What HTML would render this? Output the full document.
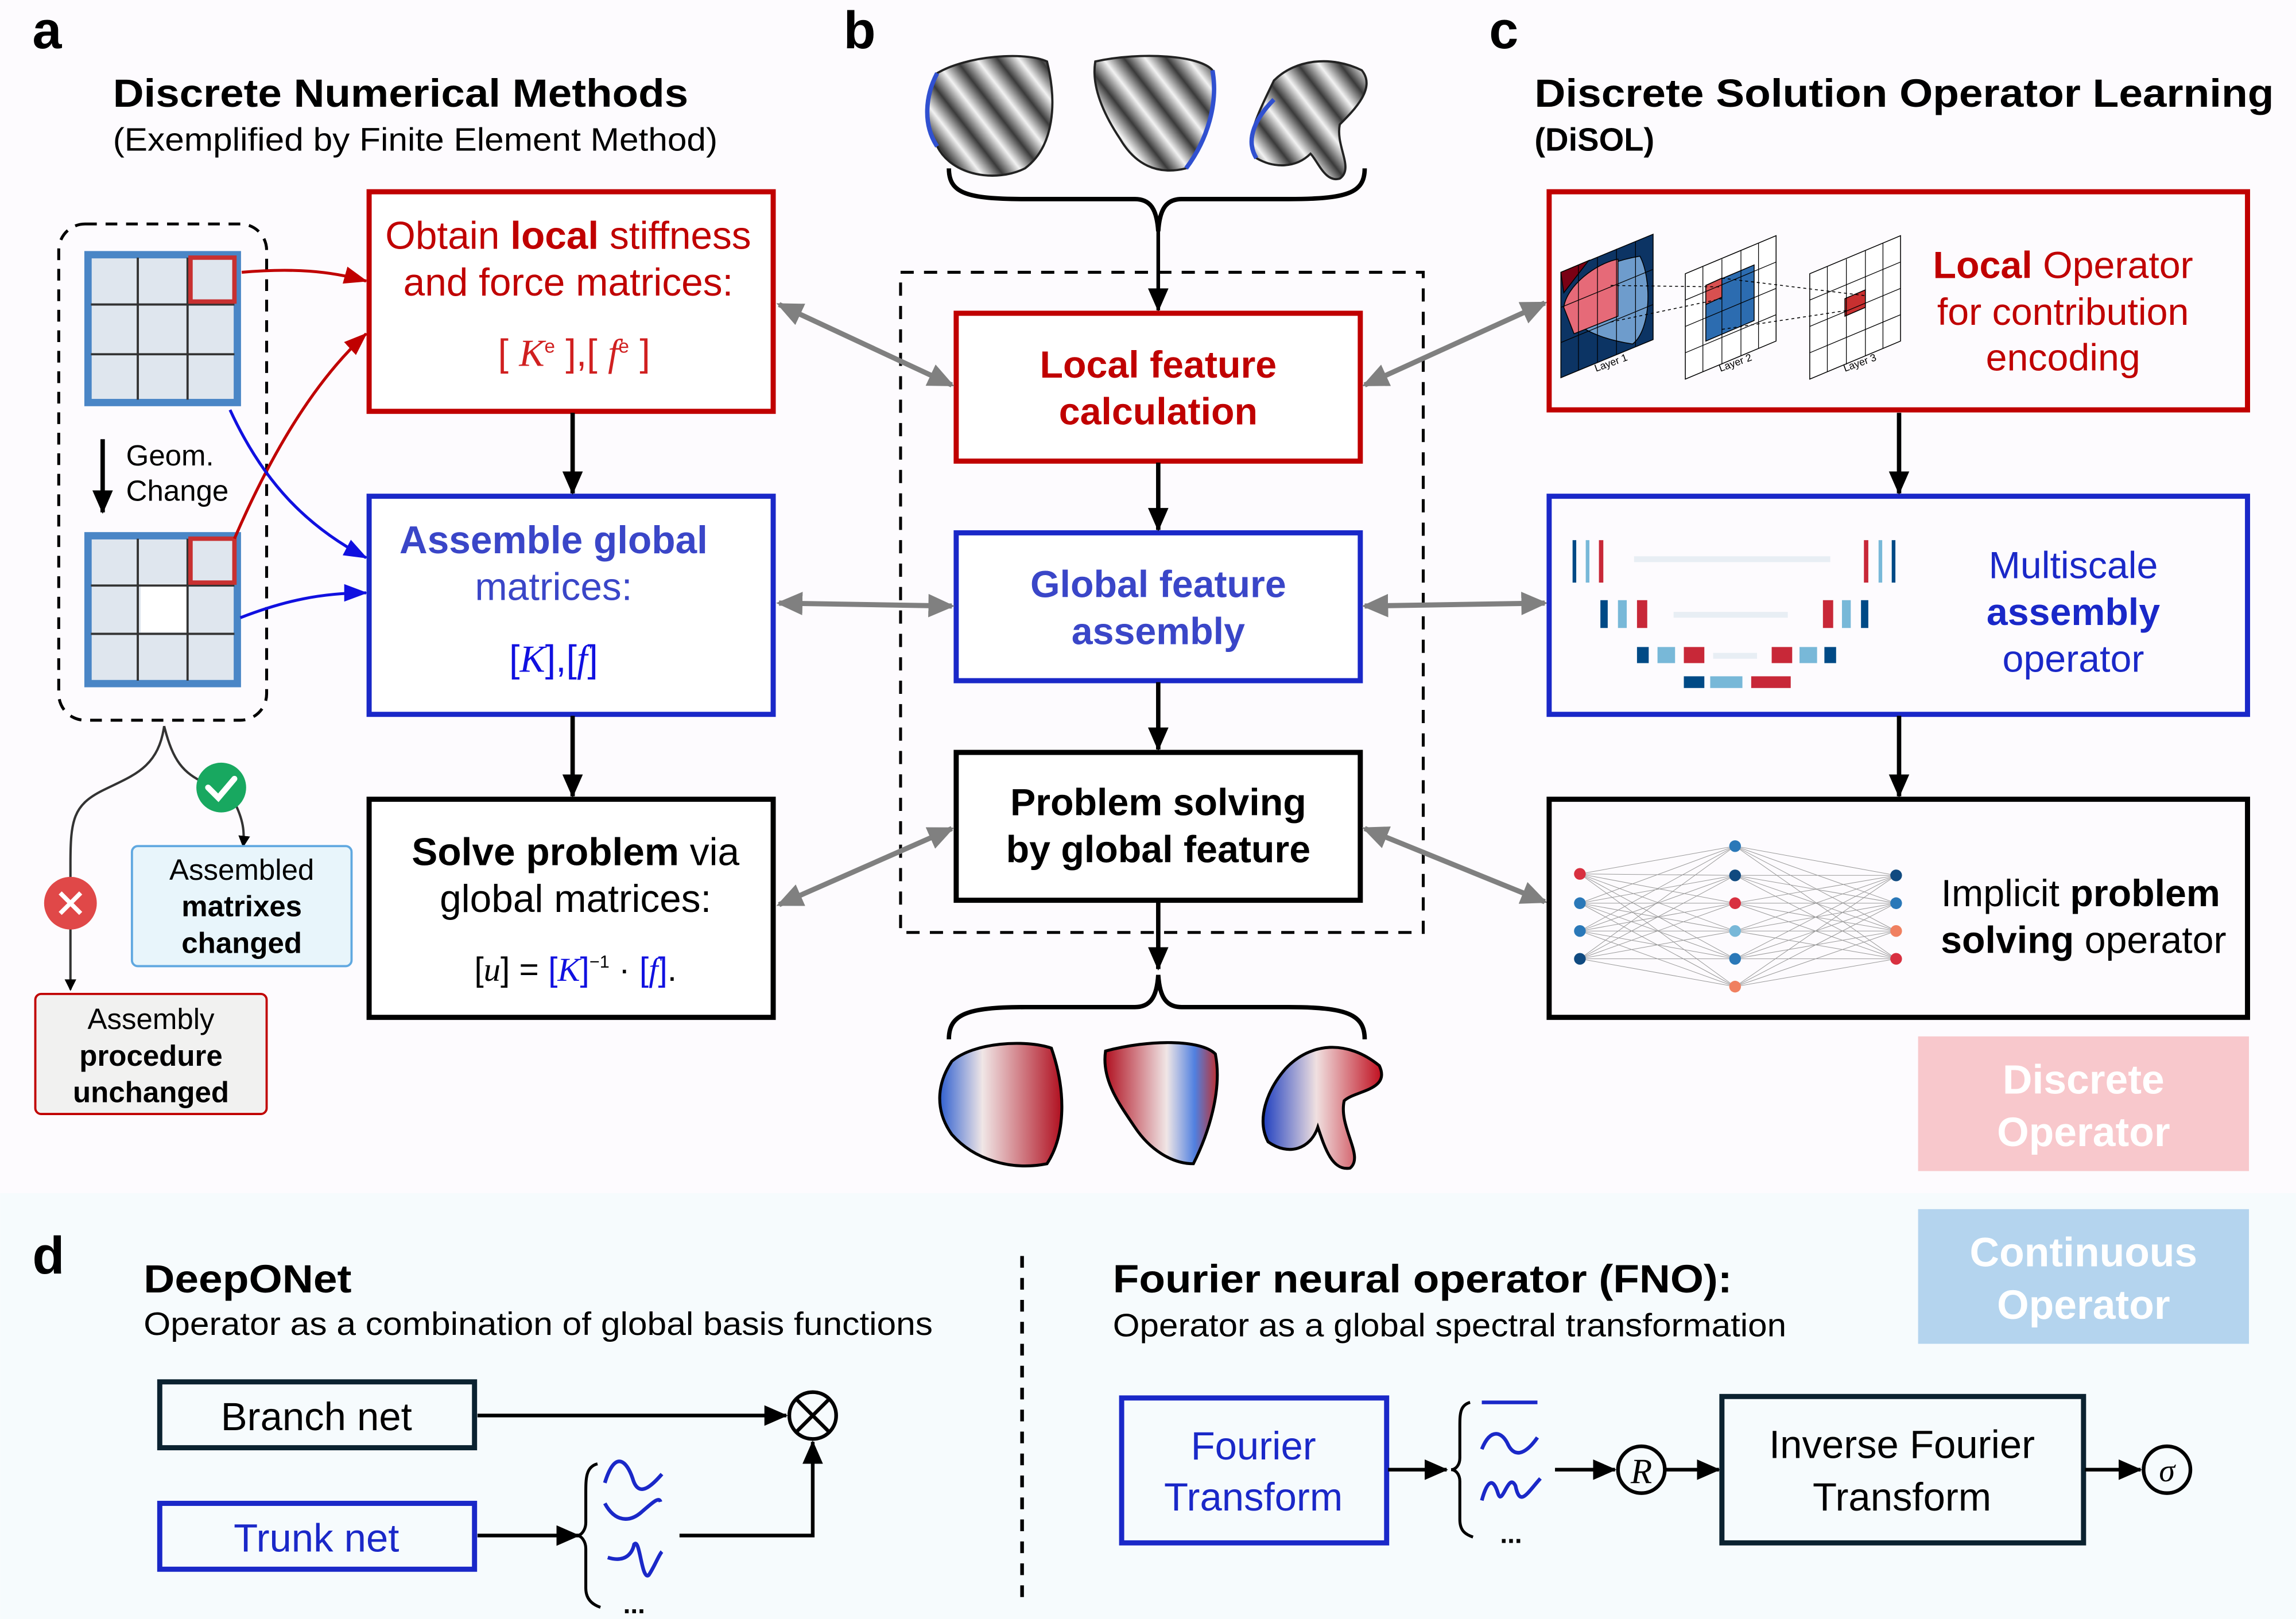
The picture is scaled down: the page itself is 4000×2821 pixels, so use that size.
<!DOCTYPE html>
<html><head><meta charset="utf-8"><style>
html,body{margin:0;padding:0;background:#fdfbfe}
svg{display:block}
text{font-family:"Liberation Sans",Arial,sans-serif}
.ser{font-family:"Liberation Serif",serif;font-style:italic}
</style></head><body>
<svg width="4000" height="2821" viewBox="0 0 1568 1106" xmlns="http://www.w3.org/2000/svg">
<defs>
<marker id="ab" markerWidth="8" markerHeight="8" refX="7" refY="4" orient="auto" markerUnits="userSpaceOnUse"><path d="M0,0 L8,4 L0,8z" fill="#000"/></marker>
<marker id="abig" markerWidth="16" markerHeight="14" refX="15" refY="7" orient="auto" markerUnits="userSpaceOnUse"><path d="M0,0 L16,7 L0,14z" fill="#000"/></marker>
<marker id="ar" markerWidth="16" markerHeight="12" refX="15" refY="6" orient="auto" markerUnits="userSpaceOnUse"><path d="M0,0 L16,6 L0,12z" fill="#c00000"/></marker>
<marker id="abl" markerWidth="16" markerHeight="12" refX="15" refY="6" orient="auto" markerUnits="userSpaceOnUse"><path d="M0,0 L16,6 L0,12z" fill="#1010e0"/></marker>
<marker id="ag" markerWidth="18" markerHeight="16" refX="16" refY="8" orient="auto-start-reverse" markerUnits="userSpaceOnUse"><path d="M0,0 L18,8 L0,16z" fill="#808080"/></marker>
<linearGradient id="stripe" gradientUnits="userSpaceOnUse" x1="0" y1="0" x2="18" y2="-14" spreadMethod="repeat">
<stop offset="0" stop-color="#f2f2f2"/><stop offset="0.5" stop-color="#3a3a3a"/><stop offset="1" stop-color="#f2f2f2"/></linearGradient>
<linearGradient id="rb1" x1="0" x2="1"><stop offset="0" stop-color="#3060d0"/><stop offset="0.35" stop-color="#f0e6e6"/><stop offset="1" stop-color="#b01020"/></linearGradient>
<linearGradient id="rb2" x1="0" x2="1"><stop offset="0" stop-color="#b01020"/><stop offset="0.55" stop-color="#f0e6e6"/><stop offset="0.8" stop-color="#5080e0"/><stop offset="1" stop-color="#c03030"/></linearGradient>
<linearGradient id="rb3" x1="0" x2="1"><stop offset="0" stop-color="#2040c0"/><stop offset="0.45" stop-color="#f0e0e0"/><stop offset="1" stop-color="#c01020"/></linearGradient>
</defs>

<rect x="0" y="0" width="1568" height="815" fill="#fdfbfe"/>
<rect x="0" y="815" width="1568" height="291" fill="#f6fbfd"/>

<text x="22" y="33" font-size="36" font-weight="bold">a</text>
<text x="576" y="33" font-size="36" font-weight="bold">b</text>
<text x="1017" y="33" font-size="36" font-weight="bold">c</text>
<text x="22" y="870" font-size="36" font-weight="bold">d</text>

<text x="77" y="73" font-size="27" font-weight="bold" textLength="393" lengthAdjust="spacingAndGlyphs">Discrete Numerical Methods</text>
<text x="77" y="103" font-size="22" textLength="413" lengthAdjust="spacingAndGlyphs">(Exemplified by Finite Element Method)</text>
<text x="1048" y="73" font-size="27" font-weight="bold" textLength="505" lengthAdjust="spacingAndGlyphs">Discrete Solution Operator Learning</text>
<text x="1048" y="103" font-size="22" font-weight="bold">(DiSOL)</text>

<rect x="40" y="153" width="142" height="339" rx="18" fill="none" stroke="#000" stroke-width="2" stroke-dasharray="8,6"/>
<g stroke="#333" stroke-width="1.5">
<rect x="60" y="174" width="102" height="101" fill="#dfe6ee" stroke="#4a86c6" stroke-width="5"/>
<line x1="94" y1="176" x2="94" y2="273"/><line x1="128" y1="176" x2="128" y2="273"/>
<line x1="62" y1="208" x2="160" y2="208"/><line x1="62" y1="242" x2="160" y2="242"/>
<rect x="130" y="176" width="30" height="30" fill="none" stroke="#c83030" stroke-width="3"/>
<rect x="60" y="366" width="102" height="101" fill="#dfe6ee" stroke="#4a86c6" stroke-width="5"/>
<rect x="96" y="399" width="32" height="33" fill="#fff" stroke="none"/>
<line x1="94" y1="368" x2="94" y2="465"/><line x1="128" y1="368" x2="128" y2="465"/>
<line x1="62" y1="400" x2="160" y2="400"/><line x1="62" y1="433" x2="160" y2="433"/>
<rect x="130" y="368" width="30" height="30" fill="none" stroke="#c83030" stroke-width="3"/>
</g>
<line x1="70" y1="300" x2="70" y2="350" stroke="#000" stroke-width="3" marker-end="url(#abig)"/>
<text x="86" y="318" font-size="20">Geom.</text>
<text x="86" y="342" font-size="20">Change</text>

<path d="M165,186 C200,183 225,185 250,192" fill="none" stroke="#c00000" stroke-width="2" marker-end="url(#ar)"/>
<path d="M160,368 C185,310 215,260 250,228" fill="none" stroke="#c00000" stroke-width="2" marker-end="url(#ar)"/>
<path d="M157,280 C180,330 210,360 250,381" fill="none" stroke="#1010e0" stroke-width="2" marker-end="url(#abl)"/>
<path d="M164,422 C195,410 220,405 250,405" fill="none" stroke="#1010e0" stroke-width="2" marker-end="url(#abl)"/>

<path d="M112,496 C108,525 90,530 70,540 C50,550 48,560 48,590 L48,676" fill="none" stroke="#333" stroke-width="1.6" marker-end="url(#ab)"/>
<path d="M112,496 C118,520 125,528 140,535" fill="none" stroke="#333" stroke-width="1.6"/>
<path d="M160,548 C166,560 167,568 166,578" fill="none" stroke="#333" stroke-width="1.6" marker-end="url(#ab)"/>
<circle cx="151" cy="538" r="17" fill="#18a860"/>
<path d="M142,538 L149,545 L160,532" fill="none" stroke="#fff" stroke-width="4" stroke-linecap="round"/>
<circle cx="48" cy="617" r="18" fill="#e04848"/>
<path d="M41,610 L55,624 M55,610 L41,624" stroke="#fff" stroke-width="3"/>
<rect x="90" y="578" width="150" height="82" rx="4" fill="#e8f5fb" stroke="#60a8e0" stroke-width="1.5"/>
<text x="165" y="601" font-size="20" text-anchor="middle">Assembled</text>
<text x="165" y="626" font-size="20" font-weight="bold" text-anchor="middle">matrixes</text>
<text x="165" y="651" font-size="20" font-weight="bold" text-anchor="middle">changed</text>
<rect x="24" y="679" width="158" height="82" rx="4" fill="#f1f1f0" stroke="#c00000" stroke-width="1.5"/>
<text x="103" y="703" font-size="20" text-anchor="middle">Assembly</text>
<text x="103" y="728" font-size="20" font-weight="bold" text-anchor="middle">procedure</text>
<text x="103" y="753" font-size="20" font-weight="bold" text-anchor="middle">unchanged</text>

<rect x="252" y="131" width="276" height="150" fill="#fff" stroke="#c00000" stroke-width="3.5"/>
<text x="388" y="170" font-size="26.5" fill="#c00000" text-anchor="middle">Obtain <tspan font-weight="bold">local</tspan> stiffness</text>
<text x="388" y="202" font-size="26.5" fill="#c00000" text-anchor="middle">and force matrices:</text>
<text x="392" y="250" font-size="26" fill="#d02020" text-anchor="middle" font-family="Liberation Serif,serif">[ <tspan class="ser">K</tspan><tspan font-size="13" dy="-9">e</tspan><tspan dy="9"> ],[ </tspan><tspan class="ser">f</tspan><tspan font-size="13" dy="-9">e</tspan><tspan dy="9"> ]</tspan></text>

<rect x="252" y="339" width="276" height="149" fill="#fff" stroke="#1a28c8" stroke-width="3.5"/>
<text x="378" y="378" font-size="26.5" fill="#3a46c8" font-weight="bold" text-anchor="middle">Assemble global</text>
<text x="378" y="410" font-size="26.5" fill="#3a46c8" text-anchor="middle">matrices:</text>
<text x="378" y="459" font-size="26" fill="#1010e0" text-anchor="middle" font-family="Liberation Serif,serif">[<tspan class="ser">K</tspan>],[<tspan class="ser">f</tspan>]</text>

<rect x="252" y="546" width="276" height="149" fill="#fff" stroke="#000" stroke-width="3.5"/>
<text x="393" y="591" font-size="26.5" text-anchor="middle"><tspan font-weight="bold">Solve problem</tspan> via</text>
<text x="393" y="623" font-size="26.5" text-anchor="middle">global matrices:</text>
<text x="393" y="670" font-size="23" text-anchor="middle" font-family="Liberation Serif,serif">[<tspan class="ser">u</tspan>] = <tspan fill="#1010e0">[<tspan class="ser">K</tspan>]</tspan><tspan font-size="12" dy="-9">−1</tspan><tspan dy="9"> · </tspan><tspan fill="#1010e0">[<tspan class="ser">f</tspan>]</tspan>.</text>

<line x1="391" y1="282" x2="391" y2="337" stroke="#000" stroke-width="3" marker-end="url(#abig)"/>
<line x1="391" y1="489" x2="391" y2="544" stroke="#000" stroke-width="3" marker-end="url(#abig)"/>

<g stroke="#222" stroke-width="1.5">
<path d="M640,50 C660,38 700,35 715,42 C722,70 720,100 700,115 C680,125 650,120 640,100 C630,85 632,65 640,50z" fill="url(#stripe)"/>
<path d="M748,42 C780,35 820,38 828,48 C832,70 825,95 810,115 C790,120 775,112 765,95 C755,80 745,60 748,42z" fill="url(#stripe)"/>
<path d="M870,55 C885,40 910,38 930,48 C940,60 925,75 915,85 C912,100 925,115 915,122 C905,125 900,110 895,105 C885,115 870,115 858,108 C850,95 858,80 870,55z" fill="url(#stripe)"/>
</g>
<g fill="none" stroke="#3050d0" stroke-width="3">
<path d="M640,100 C630,85 632,65 640,50"/>
<path d="M828,48 C832,70 825,95 810,115"/>
<path d="M858,108 C850,95 858,80 870,68"/>
</g>
<path d="M648,115 C648,132 660,136 700,136 L775,136 C785,136 790,142 791,158 C792,142 797,136 807,136 L880,136 C920,136 932,132 932,115" fill="none" stroke="#000" stroke-width="3"/>
<line x1="791" y1="158" x2="791" y2="212" stroke="#000" stroke-width="2.5" marker-end="url(#abig)"/>

<rect x="615" y="186" width="357" height="451" fill="none" stroke="#000" stroke-width="2" stroke-dasharray="9,7"/>
<rect x="653" y="214" width="276" height="101" fill="#fff" stroke="#c00000" stroke-width="3.5"/>
<text x="791" y="258" font-size="26" font-weight="bold" fill="#c00000" text-anchor="middle">Local feature</text>
<text x="791" y="290" font-size="26" font-weight="bold" fill="#c00000" text-anchor="middle">calculation</text>
<rect x="653" y="364" width="276" height="101" fill="#fff" stroke="#1a28c8" stroke-width="3.5"/>
<text x="791" y="408" font-size="26" font-weight="bold" fill="#3a46c8" text-anchor="middle">Global feature</text>
<text x="791" y="440" font-size="26" font-weight="bold" fill="#3a46c8" text-anchor="middle">assembly</text>
<rect x="653" y="514" width="276" height="101" fill="#fff" stroke="#000" stroke-width="3.5"/>
<text x="791" y="557" font-size="26" font-weight="bold" text-anchor="middle">Problem solving</text>
<text x="791" y="589" font-size="26" font-weight="bold" text-anchor="middle">by global feature</text>
<line x1="791" y1="316" x2="791" y2="362" stroke="#000" stroke-width="3" marker-end="url(#abig)"/>
<line x1="791" y1="466" x2="791" y2="512" stroke="#000" stroke-width="3" marker-end="url(#abig)"/>
<line x1="791" y1="616" x2="791" y2="662" stroke="#000" stroke-width="3" marker-end="url(#abig)"/>
<path d="M648,710 C648,693 660,688 700,688 L775,688 C785,688 790,682 791,666 C792,682 797,688 807,688 L880,688 C920,688 932,693 932,710" fill="none" stroke="#000" stroke-width="3"/>
<g stroke="#000" stroke-width="2">
<path d="M650,725 C665,712 700,710 718,716 C728,745 728,775 715,795 C690,800 665,792 650,775 C638,758 640,740 650,725z" fill="url(#rb1)"/>
<path d="M755,718 C785,710 820,710 830,720 C835,745 825,775 815,795 C800,795 785,785 775,770 C765,755 752,738 755,718z" fill="url(#rb2)"/>
<path d="M878,730 C895,712 920,710 942,728 C950,745 925,745 918,752 C914,770 932,790 922,798 C910,800 905,785 900,770 C895,785 880,790 866,780 C858,765 865,745 878,730z" fill="url(#rb3)"/>
</g>

<g stroke="#808080" stroke-width="3.5" fill="none">
<line x1="532" y1="208" x2="650" y2="263" marker-start="url(#ag)" marker-end="url(#ag)"/>
<line x1="532" y1="412" x2="650" y2="414" marker-start="url(#ag)" marker-end="url(#ag)"/>
<line x1="532" y1="618" x2="650" y2="566" marker-start="url(#ag)" marker-end="url(#ag)"/>
<line x1="932" y1="263" x2="1055" y2="207" marker-start="url(#ag)" marker-end="url(#ag)"/>
<line x1="932" y1="414" x2="1055" y2="412" marker-start="url(#ag)" marker-end="url(#ag)"/>
<line x1="932" y1="566" x2="1055" y2="616" marker-start="url(#ag)" marker-end="url(#ag)"/>
</g>

<rect x="1058" y="131" width="477" height="149" fill="#fdfbfe" stroke="#c00000" stroke-width="3.5"/>
<g stroke="#000" stroke-width="0.6">
<path d="M1066,186 L1129,160 L1129,232 L1066,258z" fill="#0c3464"/>
<path d="M1068,210 C1070,195 1090,180 1120,175 C1128,190 1128,225 1115,235 C1095,232 1075,225 1068,210z" fill="#6e9ccc"/>
<path d="M1068,210 C1070,195 1090,180 1105,177 L1105,216 L1075,228z" fill="#e66a78"/>
<path d="M1066,186 L1085,178 L1068,200z" fill="#7a0014"/>
<path d="M1151,187 L1213,161 L1213,233 L1151,259z" fill="#fff"/>
<path d="M1165,195 L1198,181 L1198,219 L1165,233z" fill="#2c6cb0"/>
<path d="M1165,195 L1176,190 L1176,203 L1165,208z" fill="#d85050"/>
<path d="M1236,187 L1298,161 L1298,233 L1236,259z" fill="#fff"/>
<path d="M1260,204 L1274,198 L1274,210 L1260,216z" fill="#c83030"/>
</g>
<g stroke="#000" stroke-width="0.5">
<line x1="1078" y1="181" x2="1078" y2="253"/><line x1="1091" y1="176" x2="1091" y2="248"/><line x1="1104" y1="170" x2="1104" y2="242"/><line x1="1117" y1="165" x2="1117" y2="237"/>
<line x1="1066" y1="210" x2="1129" y2="184"/><line x1="1066" y1="234" x2="1129" y2="208"/>
<line x1="1163" y1="182" x2="1163" y2="254"/><line x1="1176" y1="177" x2="1176" y2="249"/><line x1="1189" y1="171" x2="1189" y2="243"/><line x1="1201" y1="166" x2="1201" y2="238"/>
<line x1="1151" y1="205" x2="1213" y2="179"/><line x1="1151" y1="223" x2="1213" y2="197"/><line x1="1151" y1="241" x2="1213" y2="215"/>
<line x1="1248" y1="182" x2="1248" y2="254"/><line x1="1261" y1="177" x2="1261" y2="249"/><line x1="1274" y1="171" x2="1274" y2="243"/><line x1="1286" y1="166" x2="1286" y2="238"/>
<line x1="1236" y1="205" x2="1298" y2="179"/><line x1="1236" y1="223" x2="1298" y2="197"/><line x1="1236" y1="241" x2="1298" y2="215"/>
</g>
<g stroke="#000" stroke-width="0.6" stroke-dasharray="2,2">
<line x1="1100" y1="195" x2="1176" y2="196"/><line x1="1100" y1="220" x2="1176" y2="204"/>
<line x1="1176" y1="190" x2="1274" y2="202"/><line x1="1176" y1="225" x2="1262" y2="212"/>
</g>
<text x="1090" y="254" font-size="7" transform="rotate(-20 1090 254)">Layer 1</text>
<text x="1175" y="254" font-size="7" transform="rotate(-20 1175 254)">Layer 2</text>
<text x="1260" y="254" font-size="7" transform="rotate(-20 1260 254)">Layer 3</text>
<text x="1409" y="190" font-size="26" fill="#c00000" text-anchor="middle"><tspan font-weight="bold">Local</tspan> Operator</text>
<text x="1409" y="222" font-size="26" fill="#c00000" text-anchor="middle">for contribution</text>
<text x="1409" y="253" font-size="26" fill="#c00000" text-anchor="middle">encoding</text>

<rect x="1058" y="339" width="477" height="149" fill="#fdfbfe" stroke="#1a28c8" stroke-width="3.5"/>
<g>
<rect x="1074" y="369" width="2.5" height="29" fill="#004a86"/><rect x="1083" y="369" width="2.5" height="29" fill="#78b8d8"/><rect x="1092" y="369" width="3" height="29" fill="#c82838"/>
<rect x="1273" y="369" width="3" height="29" fill="#c82838"/><rect x="1283" y="369" width="2.5" height="29" fill="#78b8d8"/><rect x="1292" y="369" width="2.5" height="29" fill="#004a86"/>
<rect x="1116" y="380" width="134" height="4" fill="#e8eef4"/>
<rect x="1093" y="410" width="5" height="19" fill="#004a86"/><rect x="1105" y="410" width="6" height="19" fill="#78b8d8"/><rect x="1118" y="410" width="7" height="19" fill="#c82838"/>
<rect x="1245" y="410" width="7" height="19" fill="#c82838"/><rect x="1258" y="410" width="6" height="19" fill="#78b8d8"/><rect x="1271" y="410" width="5" height="19" fill="#004a86"/>
<rect x="1143" y="418" width="78" height="4" fill="#e8eef4"/>
<rect x="1118" y="442" width="8" height="11" fill="#004a86"/><rect x="1132" y="442" width="12" height="11" fill="#78b8d8"/><rect x="1150" y="442" width="14" height="11" fill="#c82838"/>
<rect x="1210" y="442" width="14" height="11" fill="#c82838"/><rect x="1229" y="442" width="12" height="11" fill="#78b8d8"/><rect x="1246" y="442" width="8" height="11" fill="#004a86"/>
<rect x="1170" y="446" width="30" height="4" fill="#e8eef4"/>
<rect x="1150" y="462" width="14" height="8" fill="#004a86"/><rect x="1168" y="462" width="22" height="8" fill="#78b8d8"/><rect x="1196" y="462" width="27" height="8" fill="#c82838"/>
</g>
<text x="1416" y="395" font-size="26" fill="#1a28c8" text-anchor="middle">Multiscale</text>
<text x="1416" y="427" font-size="26" fill="#1a28c8" font-weight="bold" text-anchor="middle">assembly</text>
<text x="1416" y="459" font-size="26" fill="#1a28c8" text-anchor="middle">operator</text>

<rect x="1058" y="546" width="477" height="149" fill="#fdfbfe" stroke="#000" stroke-width="3.5"/>
<g stroke="#999" stroke-width="0.4">
<path d="M1079,597 L1185,578 M1079,597 L1185,598 M1079,597 L1185,617 M1079,597 L1185,636 M1079,597 L1185,655 M1079,597 L1185,674
M1079,617 L1185,578 M1079,617 L1185,598 M1079,617 L1185,617 M1079,617 L1185,636 M1079,617 L1185,655 M1079,617 L1185,674
M1079,636 L1185,578 M1079,636 L1185,598 M1079,636 L1185,617 M1079,636 L1185,636 M1079,636 L1185,655 M1079,636 L1185,674
M1079,655 L1185,578 M1079,655 L1185,598 M1079,655 L1185,617 M1079,655 L1185,636 M1079,655 L1185,655 M1079,655 L1185,674
M1185,578 L1295,598 M1185,598 L1295,598 M1185,617 L1295,598 M1185,636 L1295,598 M1185,655 L1295,598 M1185,674 L1295,598
M1185,578 L1295,617 M1185,598 L1295,617 M1185,617 L1295,617 M1185,636 L1295,617 M1185,655 L1295,617 M1185,674 L1295,617
M1185,578 L1295,636 M1185,598 L1295,636 M1185,617 L1295,636 M1185,636 L1295,636 M1185,655 L1295,636 M1185,674 L1295,636
M1185,578 L1295,655 M1185,598 L1295,655 M1185,617 L1295,655 M1185,636 L1295,655 M1185,655 L1295,655 M1185,674 L1295,655"/>
</g>
<g>
<circle cx="1079" cy="597" r="4" fill="#d83040"/><circle cx="1079" cy="617" r="4" fill="#2a78b8"/><circle cx="1079" cy="636" r="4" fill="#2a78b8"/><circle cx="1079" cy="655" r="4" fill="#104a80"/>
<circle cx="1185" cy="578" r="4" fill="#2a78b8"/><circle cx="1185" cy="598" r="4" fill="#104a80"/><circle cx="1185" cy="617" r="4" fill="#d83040"/><circle cx="1185" cy="636" r="4" fill="#78b8d8"/><circle cx="1185" cy="655" r="4" fill="#2a78b8"/><circle cx="1185" cy="674" r="4" fill="#f08060"/>
<circle cx="1295" cy="598" r="4" fill="#104a80"/><circle cx="1295" cy="617" r="4" fill="#2a78b8"/><circle cx="1295" cy="636" r="4" fill="#f08060"/><circle cx="1295" cy="655" r="4" fill="#d83040"/>
</g>
<text x="1421" y="619" font-size="26" text-anchor="middle">Implicit <tspan font-weight="bold">problem</tspan></text>
<text x="1423" y="651" font-size="26" text-anchor="middle"><tspan font-weight="bold">solving</tspan> operator</text>

<line x1="1297" y1="282" x2="1297" y2="337" stroke="#000" stroke-width="3" marker-end="url(#abig)"/>
<line x1="1297" y1="489" x2="1297" y2="544" stroke="#000" stroke-width="3" marker-end="url(#abig)"/>

<rect x="1310" y="708" width="226" height="92" fill="#f8c8cc"/>
<text x="1423" y="747" font-size="28" font-weight="bold" fill="#fff" text-anchor="middle">Discrete</text>
<text x="1423" y="783" font-size="28" font-weight="bold" fill="#fff" text-anchor="middle">Operator</text>
<rect x="1310" y="826" width="226" height="92" fill="#b4d4ee"/>
<text x="1423" y="865" font-size="28" font-weight="bold" fill="#fff" text-anchor="middle">Continuous</text>
<text x="1423" y="901" font-size="28" font-weight="bold" fill="#fff" text-anchor="middle">Operator</text>

<text x="98" y="883" font-size="27" font-weight="bold" textLength="142" lengthAdjust="spacingAndGlyphs">DeepONet</text>
<text x="98" y="912" font-size="22" textLength="539" lengthAdjust="spacingAndGlyphs">Operator as a combination of global basis functions</text>
<rect x="109" y="944" width="215" height="45" fill="none" stroke="#0b2230" stroke-width="3.5"/>
<text x="216" y="977" font-size="27" text-anchor="middle">Branch net</text>
<rect x="109" y="1027" width="215" height="45" fill="none" stroke="#1a28c8" stroke-width="3.5"/>
<text x="216" y="1060" font-size="27" fill="#1a28c8" text-anchor="middle">Trunk net</text>
<line x1="326" y1="967" x2="537" y2="967" stroke="#000" stroke-width="2.5" marker-end="url(#abig)"/>
<circle cx="555" cy="967" r="16" fill="none" stroke="#000" stroke-width="2.5"/>
<path d="M544,956 L566,978 M566,956 L544,978" stroke="#000" stroke-width="2.5"/>
<line x1="326" y1="1049" x2="395" y2="1049" stroke="#000" stroke-width="2.5" marker-end="url(#abig)"/>
<path d="M408,1000 C400,1002 400,1010 400,1020 L400,1040 C400,1045 397,1049 394,1049 C397,1049 400,1053 400,1058 L400,1085 C400,1092 404,1096 410,1098" fill="none" stroke="#000" stroke-width="2"/>
<g fill="none" stroke="#1a28c8" stroke-width="2.5">
<path d="M413,1013 C420,990 428,998 432,1010 C436,1024 445,1015 452,1007"/>
<path d="M413,1027 C420,1040 430,1040 438,1033 C445,1027 450,1022 451,1026"/>
<path d="M415,1064 C428,1068 432,1060 433,1055 C437,1050 438,1080 443,1076 C447,1070 450,1062 452,1060"/>
</g>
<text x="433" y="1102" font-size="18" text-anchor="middle" font-weight="bold">...</text>
<path d="M464,1049 L555,1049 L555,985" fill="none" stroke="#000" stroke-width="2.5" marker-end="url(#abig)"/>

<line x1="698" y1="858" x2="698" y2="1096" stroke="#000" stroke-width="2.5" stroke-dasharray="8,7"/>

<text x="760" y="883" font-size="27" font-weight="bold" textLength="423" lengthAdjust="spacingAndGlyphs">Fourier neural operator (FNO):</text>
<text x="760" y="913" font-size="22" textLength="460" lengthAdjust="spacingAndGlyphs">Operator as a global spectral transformation</text>
<rect x="766" y="955" width="181" height="99" fill="none" stroke="#1a28c8" stroke-width="3.5"/>
<text x="856" y="997" font-size="27" fill="#1a28c8" text-anchor="middle">Fourier</text>
<text x="856" y="1032" font-size="27" fill="#1a28c8" text-anchor="middle">Transform</text>
<line x1="948" y1="1004" x2="988" y2="1004" stroke="#000" stroke-width="2.5" marker-end="url(#abig)"/>
<path d="M1004,958 C997,960 997,966 997,975 L997,996 C997,1001 994,1004 991,1004 C994,1004 997,1007 997,1012 L997,1038 C997,1045 1000,1048 1006,1050" fill="none" stroke="#000" stroke-width="2"/>
<g fill="none" stroke="#1a28c8" stroke-width="2.5">
<line x1="1012" y1="958" x2="1050" y2="958"/>
<path d="M1012,990 C1018,975 1026,978 1030,987 C1035,997 1043,992 1050,982"/>
<path d="M1012,1025 C1016,1010 1020,1010 1023,1020 C1026,1030 1030,1005 1035,1015 C1038,1030 1043,1020 1052,1010"/>
</g>
<text x="1032" y="1054" font-size="18" text-anchor="middle" font-weight="bold">...</text>
<line x1="1062" y1="1004" x2="1103" y2="1004" stroke="#000" stroke-width="2.5" marker-end="url(#abig)"/>
<circle cx="1121" cy="1004" r="16" fill="none" stroke="#000" stroke-width="2.5"/>
<text x="1121" y="1013" font-size="24" text-anchor="middle" class="ser">R</text>
<line x1="1138" y1="1004" x2="1174" y2="1004" stroke="#000" stroke-width="2.5" marker-end="url(#abig)"/>
<rect x="1176" y="954" width="247" height="100" fill="none" stroke="#0b2230" stroke-width="3.5"/>
<text x="1299" y="996" font-size="27" text-anchor="middle">Inverse Fourier</text>
<text x="1299" y="1032" font-size="27" text-anchor="middle">Transform</text>
<line x1="1424" y1="1004" x2="1462" y2="1004" stroke="#000" stroke-width="2.5" marker-end="url(#abig)"/>
<circle cx="1480" cy="1004" r="16" fill="none" stroke="#000" stroke-width="2.5"/>
<text x="1480" y="1012" font-size="22" text-anchor="middle" class="ser">σ</text>
</svg>
</body></html>
